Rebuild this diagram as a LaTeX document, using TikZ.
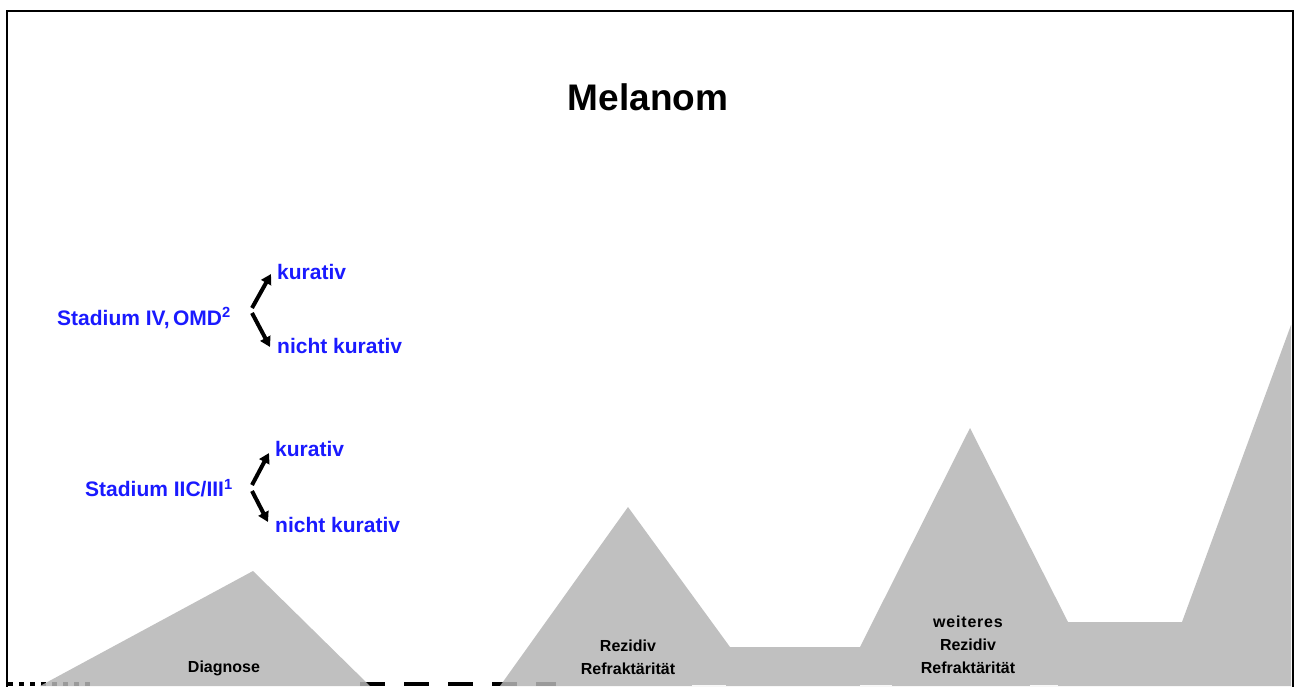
\documentclass[tikz,border=0pt]{standalone}
\usepackage{fontspec}
\setmainfont{Liberation Sans}
\usetikzlibrary{arrows.meta}
\definecolor{hill}{HTML}{B5B5B5}
\definecolor{stageblue}{HTML}{1A1AFF}
\tikzset{
  stage/.style={text=stageblue, font=\fontsize{21}{25}\selectfont\bfseries, inner sep=0pt, anchor=west},
  hilllabel/.style={text=black, font=\fontsize{16}{23}\selectfont\bfseries, inner sep=0pt, align=center},
  branch/.style={line width=4pt, -{Triangle[length=10pt,width=11pt]}},
}
\begin{document}
\begin{tikzpicture}[x=1pt,y=-1pt]
\useasboundingbox (0,0) rectangle (1299,686);
% dashed base line (partly hidden)
\draw[line width=3.5pt, dash pattern=on 5pt off 6pt] (8,684) -- (90,684);
\draw[line width=3.5pt, dash pattern=on 25pt off 19pt] (360,684) -- (556,684);
% hills
\fill[hill, opacity=0.85] (40,686) -- (253,571) -- (370,686) -- cycle;
\fill[hill, opacity=0.85] (500,686) -- (628,507) -- (730,647) -- (860,647) -- (970,428)
   -- (1068,622) -- (1182,622) -- (1291,325) -- (1291,686) -- cycle;
\draw[line width=1.5pt, white!90!hill] (692,685.5) -- (726,685.5);
\draw[line width=1.5pt, white!90!hill] (860,685.5) -- (892,685.5);
\draw[line width=1.5pt, white!90!hill] (1030,685.5) -- (1058,685.5);
% frame
\draw[line width=2pt] (7,690) -- (7,11) -- (1292.5,11) -- (1292.5,690);
% title
\node[font=\fontsize{37}{44}\selectfont\bfseries, inner sep=0pt] (title) at (648,97) {Melanom};
% upper branch
\node[stage] (s4) at (57,318) {Stadium IV,\,OMD\textsuperscript{2}};
\node[stage] (k4) at (277,272) {kurativ};
\node[stage] (n4) at (277,346) {nicht kurativ};
\coordinate (a4) at (252,308);
\coordinate (b4) at (252,313);
\coordinate (a4e) at (271,274);
\coordinate (b4e) at (270,347);
\draw[branch] (a4) -- (a4e);
\draw[branch] (b4) -- (b4e);
% lower branch
\node[stage] (s3) at (85,488) {Stadium IIC/III\textsuperscript{1}};
\node[stage] (k3) at (275,449) {kurativ};
\node[stage] (n3) at (275,525) {nicht kurativ};
\coordinate (a3) at (252,485);
\coordinate (b3) at (252,491);
\coordinate (a3e) at (269,453);
\coordinate (b3e) at (268,522);
\draw[branch] (a3) -- (a3e);
\draw[branch] (b3) -- (b3e);
% hill labels
\node[hilllabel] (diag) at (224,668) {Diagnose};
\node[hilllabel] (rez1) at (628,657) {Rezidiv\\Refraktärität};
\node[hilllabel] (rez2) at (968,645) {w\kern.8pt e\kern.8pt i\kern.8pt t\kern.8pt e\kern.8pt r\kern.8pt e\kern.8pt s\\Rezidiv\\Refraktärität};
\end{tikzpicture}
\end{document}
